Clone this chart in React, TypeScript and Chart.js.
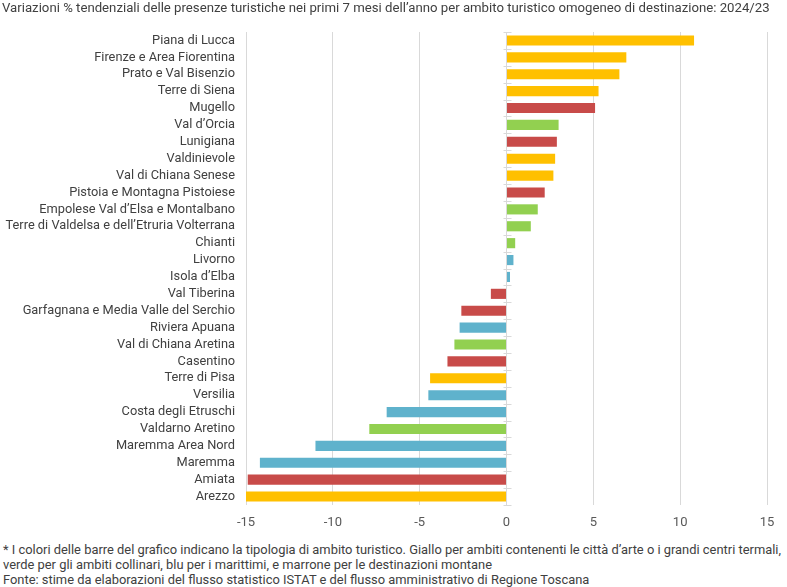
import React, { useEffect, useRef } from "react";
import { Chart, registerables } from "chart.js";

Chart.register(...registerables);

const titleText =
  "Variazioni % tendenziali delle presenze turistiche nei primi 7 mesi dell’anno per ambito turistico omogeneo di destinazione: 2024/23";

const categories = [
  "Piana di Lucca",
  "Firenze e Area Fiorentina",
  "Prato e Val Bisenzio",
  "Terre di Siena",
  "Mugello",
  "Val d’Orcia",
  "Lunigiana",
  "Valdinievole",
  "Val di Chiana Senese",
  "Pistoia e Montagna Pistoiese",
  "Empolese Val d’Elsa e Montalbano",
  "Terre di Valdelsa e dell’Etruria Volterrana",
  "Chianti",
  "Livorno",
  "Isola d’Elba",
  "Val Tiberina",
  "Garfagnana e Media Valle del Serchio",
  "Riviera Apuana",
  "Val di Chiana Aretina",
  "Casentino",
  "Terre di Pisa",
  "Versilia",
  "Costa degli Etruschi",
  "Valdarno Aretino",
  "Maremma Area Nord",
  "Maremma",
  "Amiata",
  "Arezzo",
];

const values = [
  10.8, 6.9, 6.5, 5.3, 5.1, 3.0, 2.9, 2.8, 2.7, 2.2, 1.8, 1.4, 0.5, 0.4, 0.2,
  -0.9, -2.6, -2.7, -3.0, -3.4, -4.4, -4.5, -6.9, -7.9, -11.0, -14.2, -14.9,
  -15.0,
];

// a = arte/terme (giallo), c = collinare (verde), m = mare (blu), n = montagna (marrone)
const types = [
  "a", "a", "a", "a", "n", "c", "n", "a", "a", "n", "c", "c", "c", "m", "m",
  "n", "n", "m", "c", "n", "a", "m", "m", "c", "m", "m", "n", "a",
];

const typeColors: Record<string, string> = {
  a: "#FFC000",
  c: "#92D050",
  m: "#5FB2CC",
  n: "#C84B49",
};

const xMin = -15;
const xMax = 15;
const xStep = 5;

const footLines = [
  "* I colori delle barre del grafico indicano la tipologia di ambito turistico. Giallo per ambiti contenenti le città d’arte o i grandi centri termali,",
  "verde per gli ambiti collinari, blu per i marittimi, e marrone per le destinazioni montane",
  "Fonte: stime da elaborazioni del flusso statistico ISTAT e del flusso amministrativo di Regione Toscana",
];

const FONT = "Roboto, 'Liberation Sans', Arial, sans-serif";

const zeroTicks = {
  id: "zeroTicks",
  afterDatasetsDraw(chart: any) {
    const { ctx, scales } = chart;
    const x = scales.x;
    const y = scales.y;
    const x0 = Math.round(x.getPixelForValue(0)) + 0.5;
    ctx.save();
    ctx.strokeStyle = "#D9D9D9";
    ctx.lineWidth = 1;
    for (let i = 0; i <= categories.length; i++) {
      const py = Math.round(y.getPixelForValue(i - 0.5)) + 0.5;
      ctx.beginPath();
      ctx.moveTo(x0 - 4, py);
      ctx.lineTo(x0 + 4, py);
      ctx.stroke();
    }
    ctx.restore();
  },
};

export default function App() {
  const ref = useRef<HTMLCanvasElement | null>(null);

  useEffect(() => {
    document.body.style.margin = "0";
    const chart = new Chart(ref.current as HTMLCanvasElement, {
      type: "bar",
      data: {
        labels: categories,
        datasets: [
          {
            data: values,
            backgroundColor: types.map((t) => typeColors[t]),
            borderWidth: 0,
            barPercentage: 0.6,
            categoryPercentage: 1,
          },
        ],
      },
      options: {
        indexAxis: "y",
        animation: false,
        responsive: false,
        devicePixelRatio: 1,
        layout: { padding: { top: 32, right: 20, left: 0, bottom: 0 } },
        plugins: {
          legend: { display: false },
          tooltip: { enabled: false },
        },
        scales: {
          x: {
            min: xMin,
            max: xMax,
            ticks: {
              stepSize: xStep,
              color: "#595959",
              font: { family: FONT, size: 13 },
              padding: 10,
            },
            grid: { color: "#D9D9D9", drawTicks: false, lineWidth: 1 },
            border: { display: false },
            afterFit: (s: any) => {
              s.height = 35;
            },
          },
          y: {
            ticks: {
              color: "#404040",
              font: { family: FONT, size: 12.8 },
              padding: 11,
              autoSkip: false,
            },
            grid: { display: false, drawTicks: false },
            border: { display: false },
            afterFit: (s: any) => {
              s.width = 246;
            },
          },
        },
      },
      plugins: [zeroTicks],
    });
    return () => chart.destroy();
  }, []);

  return (
    <div
      style={{
        position: "absolute",
        left: 0,
        top: 0,
        width: 787,
        height: 587,
        background: "#fff",
        fontFamily: FONT,
      }}
    >
      <canvas ref={ref} width={787} height={540} style={{ position: "absolute", left: 0, top: 0 }} />
      <div
        style={{
          position: "absolute",
          left: 2,
          top: 0,
          fontSize: 13.2,
          color: "#404040",
          whiteSpace: "nowrap",
        }}
      >
        {titleText}
      </div>
      <div
        style={{
          position: "absolute",
          left: 3,
          top: 542,
          fontSize: 12.9,
          lineHeight: "15px",
          color: "#404040",
          whiteSpace: "nowrap",
        }}
      >
        {footLines.map((l, i) => (
          <div key={i}>{l}</div>
        ))}
      </div>
    </div>
  );
}
